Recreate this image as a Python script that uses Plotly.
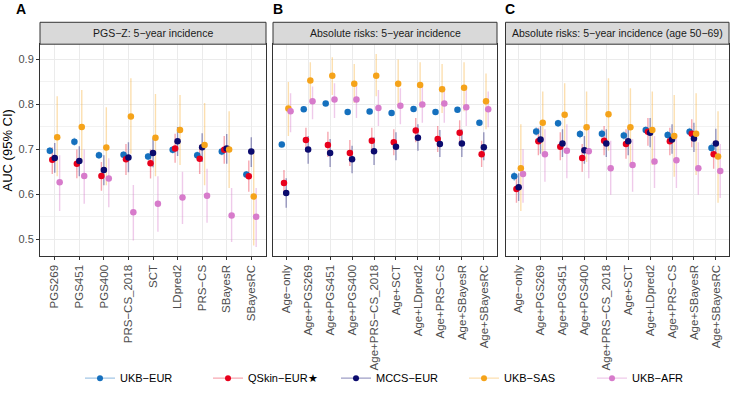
import plotly.graph_objects as go

# ---------------- data ----------------
SERIES = ["UKB−EUR", "QSkin−EUR★", "MCCS−EUR", "UKB−SAS", "UKB−AFR"]
COLORS = ["#1570BE", "#E8001C", "#0B0B6E", "#F5A31A", "#D77BCB"]
CI_COLORS = ["rgba(21,112,190,0.4)", "rgba(232,0,28,0.35)", "rgba(11,11,110,0.4)",
             "rgba(245,163,26,0.35)", "rgba(215,123,203,0.4)"]

CATS_A = ["PGS269", "PGS451", "PGS400", "PRS−CS_2018", "SCT", "LDpred2", "PRS−CS", "SBayesR", "SBayesRC"]
CATS_B = ["Age−only", "Age+PGS269", "Age+PGS451", "Age+PGS400", "Age+PRS−CS_2018", "Age+SCT",
          "Age+LDpred2", "Age+PRS−CS", "Age+SBayesR", "Age+SBayesRC"]
CATS_C = CATS_B

TITLE_A = "PGS−Z: 5−year incidence"
TITLE_B = "Absolute risks: 5−year incidence"
TITLE_C = "Absolute risks: 5−year incidence (age 50−69)"

# Panel A
A_EUR = [0.697, 0.717, 0.687, 0.688, 0.684, 0.699, 0.687, 0.695, 0.644]
A_EUR_LO = [0.689, 0.708, 0.679, 0.680, 0.676, 0.691, 0.679, 0.687, 0.636]
A_EUR_HI = [0.705, 0.726, 0.695, 0.696, 0.692, 0.707, 0.695, 0.703, 0.652]
A_QSK = [0.677, 0.668, 0.641, 0.678, 0.669, 0.702, 0.679, 0.699, 0.640]
A_QSK_LO = [0.645, 0.636, 0.608, 0.643, 0.635, 0.670, 0.645, 0.668, 0.606]
A_QSK_HI = [0.705, 0.700, 0.672, 0.712, 0.700, 0.735, 0.710, 0.730, 0.675]
A_MCC = [0.681, 0.674, 0.654, 0.682, 0.692, 0.718, 0.705, 0.702, 0.695]
A_MCC_LO = [0.648, 0.640, 0.620, 0.649, 0.660, 0.685, 0.672, 0.668, 0.661]
A_MCC_HI = [0.714, 0.707, 0.687, 0.716, 0.725, 0.750, 0.736, 0.734, 0.727]
A_SAS = [0.727, 0.750, 0.704, 0.773, 0.726, 0.743, 0.710, 0.700, 0.595]
A_SAS_LO = [0.640, 0.672, 0.620, 0.690, 0.640, 0.665, 0.620, 0.614, 0.486]
A_SAS_HI = [0.818, 0.832, 0.794, 0.858, 0.823, 0.821, 0.803, 0.785, 0.700]
A_AFR = [0.627, 0.641, 0.635, 0.560, 0.579, 0.593, 0.597, 0.553, 0.550]
A_AFR_LO = [0.563, 0.579, 0.571, 0.497, 0.517, 0.534, 0.537, 0.494, 0.483]
A_AFR_HI = [0.687, 0.700, 0.680, 0.621, 0.640, 0.650, 0.657, 0.614, 0.614]

# Panel B
B_EUR = [0.711, 0.789, 0.802, 0.783, 0.784, 0.781, 0.790, 0.783, 0.788, 0.759]
B_EUR_LO = [0.706, 0.785, 0.798, 0.779, 0.780, 0.777, 0.786, 0.779, 0.784, 0.754]
B_EUR_HI = [0.716, 0.793, 0.806, 0.787, 0.788, 0.785, 0.794, 0.787, 0.792, 0.764]
B_QSK = [0.625, 0.721, 0.710, 0.692, 0.719, 0.716, 0.742, 0.723, 0.737, 0.689]
B_QSK_LO = [0.599, 0.694, 0.683, 0.663, 0.690, 0.687, 0.716, 0.694, 0.708, 0.661]
B_QSK_HI = [0.654, 0.748, 0.739, 0.721, 0.748, 0.745, 0.770, 0.752, 0.765, 0.719]
B_MCC = [0.603, 0.700, 0.692, 0.678, 0.696, 0.706, 0.726, 0.712, 0.713, 0.705]
B_MCC_LO = [0.570, 0.668, 0.661, 0.647, 0.665, 0.676, 0.697, 0.683, 0.683, 0.676]
B_MCC_HI = [0.636, 0.730, 0.723, 0.708, 0.727, 0.738, 0.756, 0.743, 0.745, 0.738]
B_SAS = [0.791, 0.853, 0.864, 0.846, 0.864, 0.846, 0.843, 0.834, 0.837, 0.807]
B_SAS_LO = [0.730, 0.807, 0.821, 0.803, 0.818, 0.796, 0.792, 0.781, 0.785, 0.745]
B_SAS_HI = [0.850, 0.894, 0.905, 0.890, 0.912, 0.900, 0.894, 0.890, 0.894, 0.869]
B_AFR = [0.785, 0.807, 0.811, 0.811, 0.792, 0.797, 0.800, 0.802, 0.794, 0.789]
B_AFR_LO = [0.738, 0.767, 0.770, 0.770, 0.752, 0.756, 0.759, 0.759, 0.752, 0.749]
B_AFR_HI = [0.825, 0.840, 0.847, 0.847, 0.832, 0.836, 0.840, 0.840, 0.832, 0.829]

# Panel C
C_EUR = [0.640, 0.740, 0.758, 0.734, 0.735, 0.731, 0.743, 0.732, 0.739, 0.703]
C_EUR_LO = [0.630, 0.731, 0.750, 0.725, 0.726, 0.722, 0.735, 0.723, 0.730, 0.693]
C_EUR_HI = [0.650, 0.749, 0.766, 0.743, 0.744, 0.740, 0.751, 0.741, 0.748, 0.713]
C_QSK = [0.612, 0.718, 0.706, 0.681, 0.719, 0.712, 0.739, 0.718, 0.735, 0.689]
C_QSK_LO = [0.581, 0.687, 0.676, 0.650, 0.687, 0.679, 0.708, 0.687, 0.705, 0.657]
C_QSK_HI = [0.639, 0.748, 0.738, 0.712, 0.752, 0.745, 0.770, 0.748, 0.767, 0.719]
C_MCC = [0.616, 0.722, 0.713, 0.698, 0.713, 0.718, 0.737, 0.722, 0.724, 0.713]
C_MCC_LO = [0.585, 0.690, 0.683, 0.668, 0.683, 0.687, 0.705, 0.690, 0.694, 0.681]
C_MCC_HI = [0.647, 0.752, 0.745, 0.730, 0.745, 0.748, 0.770, 0.756, 0.759, 0.746]
C_SAS = [0.658, 0.759, 0.777, 0.749, 0.778, 0.749, 0.743, 0.730, 0.735, 0.684]
C_SAS_LO = [0.563, 0.690, 0.708, 0.672, 0.697, 0.668, 0.665, 0.639, 0.643, 0.581]
C_SAS_HI = [0.756, 0.829, 0.847, 0.829, 0.858, 0.836, 0.829, 0.821, 0.825, 0.785]
C_AFR = [0.645, 0.689, 0.697, 0.696, 0.658, 0.665, 0.673, 0.676, 0.658, 0.652]
C_AFR_LO = [0.581, 0.628, 0.636, 0.636, 0.599, 0.606, 0.614, 0.614, 0.599, 0.592]
C_AFR_HI = [0.701, 0.745, 0.756, 0.756, 0.719, 0.723, 0.730, 0.734, 0.716, 0.712]

Y_TICKS = [0.5, 0.6, 0.7, 0.8, 0.9]
Y_RANGE = [0.462, 0.934]
DODGE = [-0.2, -0.1, 0.0, 0.1, 0.2]

PANELS = [
    ("A", TITLE_A, CATS_A,
     [(A_EUR, A_EUR_LO, A_EUR_HI), (A_QSK, A_QSK_LO, A_QSK_HI), (A_MCC, A_MCC_LO, A_MCC_HI),
      (A_SAS, A_SAS_LO, A_SAS_HI), (A_AFR, A_AFR_LO, A_AFR_HI)]),
    ("B", TITLE_B, CATS_B,
     [(B_EUR, B_EUR_LO, B_EUR_HI), (B_QSK, B_QSK_LO, B_QSK_HI), (B_MCC, B_MCC_LO, B_MCC_HI),
      (B_SAS, B_SAS_LO, B_SAS_HI), (B_AFR, B_AFR_LO, B_AFR_HI)]),
    ("C", TITLE_C, CATS_C,
     [(C_EUR, C_EUR_LO, C_EUR_HI), (C_QSK, C_QSK_LO, C_QSK_HI), (C_MCC, C_MCC_LO, C_MCC_HI),
      (C_SAS, C_SAS_LO, C_SAS_HI), (C_AFR, C_AFR_LO, C_AFR_HI)]),
]

# ---------------- layout geometry ----------------
W, H = 732, 393
X_DOMAINS = [[40 / W, 266 / W], [273 / W, 497 / W], [505.5 / W, 729 / W]]
Y_DOMAIN = [1 - 261 / H, 1 - 45 / H]
STRIP_TOP = 1 - 22.7 / H
FONT = "Liberation Sans, Arial, sans-serif"
GRID = "#EBEBEB"
BORDER = "#333333"

fig = go.Figure()
layout_axes = {}
shapes = []
annotations = []

for i, (label, title, cats, series) in enumerate(PANELS):
    xa = "x" if i == 0 else f"x{i + 1}"
    ya = "y" if i == 0 else f"y{i + 1}"
    xpos = list(range(1, len(cats) + 1))
    # CI lines first (under all points)
    for s, (auc, lo, hi) in enumerate(series):
        xs = [p + DODGE[s] for p in xpos]
        fig.add_trace(go.Scatter(
            x=xs, y=auc, mode="markers", xaxis=xa, yaxis=ya,
            marker=dict(size=6, opacity=0, color=COLORS[s]),
            error_y=dict(type="data", symmetric=False,
                         array=[h - a for a, h in zip(auc, hi)],
                         arrayminus=[a - l for a, l in zip(auc, lo)],
                         color=CI_COLORS[s], thickness=1.4, width=0),
            showlegend=False, hoverinfo="skip"))
    for s, (auc, lo, hi) in enumerate(series):
        xs = [p + DODGE[s] for p in xpos]
        fig.add_trace(go.Scatter(
            x=xs, y=auc, mode="markers", xaxis=xa, yaxis=ya,
            marker=dict(size=6.5, color=COLORS[s], line=dict(width=0)),
            name=SERIES[s], showlegend=False))

    kx = "xaxis" if i == 0 else f"xaxis{i + 1}"
    ky = "yaxis" if i == 0 else f"yaxis{i + 1}"
    layout_axes[kx] = dict(
        domain=X_DOMAINS[i], anchor=ya, range=[0.4, len(cats) + 0.6],
        tickmode="array", tickvals=xpos, ticktext=cats, tickangle=-90,
        tickfont=dict(size=11.5, color="#4D4D4D", family=FONT),
        showgrid=True, gridcolor=GRID, gridwidth=1, zeroline=False,
        ticks="outside", ticklen=3, tickcolor=BORDER,
        showline=True, mirror=True, linecolor=BORDER, linewidth=1)
    layout_axes[ky] = dict(
        domain=Y_DOMAIN, anchor=xa, range=Y_RANGE,
        tickmode="array", tickvals=Y_TICKS, ticktext=[f"{v:.1f}" for v in Y_TICKS],
        showticklabels=(i == 0), ticks="outside" if i == 0 else "", ticklen=3, tickcolor=BORDER,
        tickfont=dict(size=11, color="#4D4D4D", family=FONT),
        showgrid=True, gridcolor=GRID, gridwidth=1, zeroline=False,
        minor=dict(tickvals=[0.55, 0.65, 0.75, 0.85], showgrid=True, gridcolor="#F2F2F2", gridwidth=0.7),
        showline=True, mirror=True, linecolor=BORDER, linewidth=1)
    if i == 0:
        layout_axes[ky]["title"] = dict(text="AUC (95% CI)", font=dict(size=13, color="black", family=FONT),
                                       standoff=7)

    # strip
    shapes.append(dict(type="rect", xref="paper", yref="paper",
                       x0=X_DOMAINS[i][0], x1=X_DOMAINS[i][1], y0=Y_DOMAIN[1], y1=STRIP_TOP,
                       fillcolor="#D9D9D9", line=dict(color=BORDER, width=1), layer="above"))
    annotations.append(dict(text=title, xref="paper", yref="paper",
                            x=(X_DOMAINS[i][0] + X_DOMAINS[i][1]) / 2, y=(Y_DOMAIN[1] + STRIP_TOP) / 2,
                            showarrow=False, xanchor="center", yanchor="middle",
                            font=dict(size=10.5, color="#1A1A1A", family=FONT)))

# panel letters
for lbl, px in [("A", 14), ("B", 271), ("C", 503)]:
    annotations.append(dict(text=f"<b>{lbl}</b>", xref="paper", yref="paper", x=px / W, y=1 - 9 / H,
                            showarrow=False, xanchor="left", yanchor="middle",
                            font=dict(size=14, color="black", family=FONT)))

# legend-only traces (point + faint line)
for s, name in enumerate(SERIES):
    fig.add_trace(go.Scatter(
        x=[None], y=[None], mode="lines+markers", name=name,
        line=dict(color=CI_COLORS[s], width=1.4),
        marker=dict(size=6, color=COLORS[s]), showlegend=True))

fig.update_layout(
    width=W, height=H, margin=dict(l=0, r=0, t=0, b=0),
    paper_bgcolor="white", plot_bgcolor="white",
    font=dict(family=FONT, color="#1A1A1A"),
    shapes=shapes, annotations=annotations,
    legend=dict(orientation="h", x=80 / W, xanchor="left", y=1 - 385 / H, yanchor="middle",
                font=dict(size=11, color="black", family=FONT),
                entrywidth=83, entrywidthmode="pixels", itemwidth=30,
                bgcolor="rgba(0,0,0,0)"),
    **layout_axes)

fig.write_html("out.html", config={"displayModeBar": False},
               post_script="document.body.style.margin='0';document.body.style.padding='0';")
